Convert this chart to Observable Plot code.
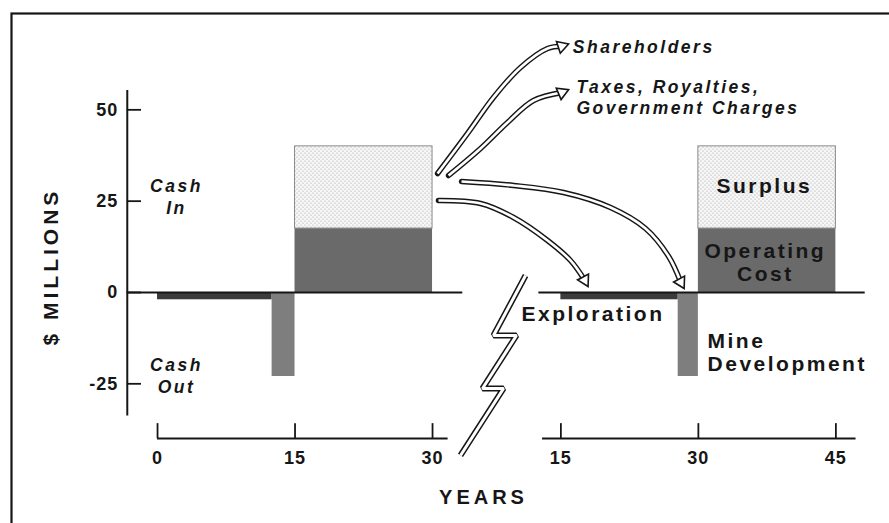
<!DOCTYPE html>
<html>
<head>
<meta charset="utf-8">
<script src="https://cdn.jsdelivr.net/npm/d3@7"></script>
<script src="https://cdn.jsdelivr.net/npm/@observablehq/plot@0.6"></script>
<style>
  html, body { margin: 0; padding: 0; background: #fff; }
  #chart { width: 889px; height: 523px; }
  #chart svg { font-family: "Liberation Sans", Arial, Helvetica, sans-serif; }
</style>
</head>
<body>
<div id="chart"></div>
<script>
// ---------------- DATA ----------------
const phases      = ["Exploration", "Mine Development", "Operating Cost", "Surplus"];
const leftStart   = [0, 12.5, 15, 15];     // years, left panel
const leftEnd     = [12.5, 15, 30, 30];
const rightStart  = [15, 27.8, 30, 30];    // years, right panel
const rightEnd    = [27.8, 30, 45, 45];
const phaseLow    = [-2, -23, 0, 17.5];    // $ millions
const phaseHigh   = [0, 0, 17.5, 40];
const yTicks      = [-25, 0, 25, 50];
const leftXTicks  = [0, 15, 30];
const rightXTicks = [15, 30, 45];

// ---------------- LAYOUT (scale domains, annotation positions in data units) ----------------
const W = 889, H = 523;
const xDomain = [-17.13, 79.85];
const yDomain = [-63.24, 79.93];
const rightShift = 29;                       // right panel drawn 29 years to the right
const colors = {"Exploration": "#3b3b3b", "Mine Development": "#7e7e7e", "Operating Cost": "#6a6a6a"};
const yAxisX = -3.3, yAxisTop = 55.3, yAxisBottom = -33.8, yTickEnd = -1.75;
const zeroLeft = [-3.3, 33.3], zeroRight = [12.6, 48.2];
const xAxisY = -40, xTickLen = 4.1;
const leftAxisSpan = [0, 31.7], rightAxisSpan = [13, 47.2];

const bolt = [[40.15, 4.65], [36.65, -11.77], [39.16, -11.77], [35.45, -26.28], [37.75, -26.28], [33.05, -44.62]];
const arrows = [
  [[30.55, 32.58], [33.82, 43.54], [36.65, 53.4], [39.6, 61.6], [42.55, 66.8], [44.1, 67.4]],
  [[31.75, 32.03], [35.24, 39.42], [38.18, 46.54], [41.02, 52.56], [44.12, 54.75]],
  [[33.16, 30.39], [38.84, 29.3], [44.29, 27.38], [49.42, 23.27], [53.24, 17.52], [55.76, 9.86], [57.08, 2.82]],
  [[30.65, 25.18], [35.24, 24.36], [38.84, 20.53], [42.55, 14.24], [45.05, 8.76], [46.6, 3.37]]
];
const arrowRotate = [72, 67, 152, 152];

const italicLabels = [
  {text: "Cash\nIn", x: 2.07, y: 26.3, anchor: "middle"},
  {text: "Cash\nOut", x: 2.07, y: -22.7, anchor: "middle"},
  {text: "Shareholders", x: 45.3, y: 67.6, anchor: "start"},
  {text: "Taxes, Royalties,\nGovernment Charges", x: 45.7, y: 53.65, anchor: "start"}
];
const phaseLabels = [
  {text: "Surplus", x: 66.2, y: 29.15, anchor: "middle"},
  {text: "Operating\nCost", x: 66.3, y: 8.2, anchor: "middle"},
  {text: "Exploration", x: 47.5, y: -5.9, anchor: "middle"},
  {text: "Mine\nDevelopment", x: 60.0, y: -16.4, anchor: "start"}
];

// ---------------- BUILD ----------------
const panels = [
  {shift: 0, start: leftStart, end: leftEnd},
  {shift: rightShift, start: rightStart, end: rightEnd}
];
const bars = panels.flatMap(p => phases.map((ph, i) => ({
  phase: ph, x1: p.start[i] + p.shift, x2: p.end[i] + p.shift, y1: phaseLow[i], y2: phaseHigh[i]
})));
const solidBars = bars.filter(d => d.phase !== "Surplus");
const surplusBars = bars.filter(d => d.phase === "Surplus");
const xTickRows = [
  ...leftXTicks.map(t => ({label: t, x: t})),
  ...rightXTicks.map(t => ({label: t, x: t + rightShift}))
];
const arrowRows = arrows.flatMap((pts, k) => pts.map(([x, y]) => ({k, x, y})));
const headRows = arrows.map((pts, k) => ({x: pts[pts.length - 1][0], y: pts[pts.length - 1][1], r: arrowRotate[k]}));
const boltRows = bolt.map(([x, y]) => ({x, y}));
const ink = "#161616";

const defs = () => {
  const d = d3.create("svg:defs");
  const p = d.append("pattern").attr("id", "dots").attr("patternUnits", "userSpaceOnUse")
    .attr("width", 4).attr("height", 4);
  p.append("rect").attr("width", 4).attr("height", 4).attr("fill", "#f7f7f7");
  p.append("circle").attr("cx", 1).attr("cy", 1).attr("r", 0.6).attr("fill", "#a0a0a0");
  p.append("circle").attr("cx", 3).attr("cy", 3).attr("r", 0.6).attr("fill", "#a0a0a0");
  return d.node();
};

const textMarks = (rows, opts, tag) => ["start", "middle"].map(a =>
  Plot.text(rows.filter(d => d.anchor === a), {x: "x", y: "y", text: "text", textAnchor: a, fill: ink,
    ariaDescription: tag, ...opts}));

const marks = [
  defs,
  Plot.frame({insetTop: 13, insetLeft: 11, insetRight: -4, insetBottom: -4, stroke: ink, strokeWidth: 2.2}),
  Plot.rect(solidBars, {x1: "x1", x2: "x2", y1: "y1", y2: "y2", fill: d => colors[d.phase]}),
  Plot.rect(surplusBars, {x1: "x1", x2: "x2", y1: "y1", y2: "y2", fill: "url(#dots)", stroke: "#8a8a8a", strokeWidth: 1}),
  // zero lines
  Plot.ruleY([0], {x1: zeroLeft[0], x2: zeroLeft[1], stroke: ink, strokeWidth: 1.8}),
  Plot.ruleY([0], {x1: zeroRight[0] + rightShift, x2: zeroRight[1] + rightShift, stroke: ink, strokeWidth: 1.8}),
  // y axis
  Plot.ruleX([yAxisX], {y1: yAxisBottom, y2: yAxisTop, stroke: ink, strokeWidth: 2}),
  Plot.ruleY(yTicks, {y: d => d, x1: yAxisX, x2: yTickEnd, stroke: ink, strokeWidth: 1.8}),
  Plot.text(yTicks, {x: yAxisX, y: d => d, text: d => String(d), dx: -9, textAnchor: "end",
    fontSize: 18, fontWeight: "bold", fill: ink, ariaDescription: "tick-labels"}),
  // x axes
  Plot.ruleY([xAxisY], {x1: leftAxisSpan[0], x2: leftAxisSpan[1], stroke: ink, strokeWidth: 2}),
  Plot.ruleY([xAxisY], {x1: rightAxisSpan[0] + rightShift, x2: rightAxisSpan[1] + rightShift, stroke: ink, strokeWidth: 2}),
  Plot.ruleX(xTickRows, {x: "x", y1: xAxisY, y2: xAxisY + xTickLen, stroke: ink, strokeWidth: 1.8}),
  Plot.text(xTickRows, {x: "x", y: xAxisY, text: d => String(d.label), dy: 20,
    fontSize: 18, fontWeight: "bold", fill: ink, ariaDescription: "tick-labels"}),
  // axis titles
  Plot.text(["$ MILLIONS"], {x: -11.56, y: 7.1, text: d => d, rotate: -90, fontSize: 21,
    fontWeight: "bold", fill: ink, ariaDescription: "axis-titles"}),
  Plot.text(["YEARS"], {x: 35.56, y: -56.1, text: d => d, fontSize: 20,
    fontWeight: "bold", fill: ink, ariaDescription: "axis-titles"}),
  // break symbol
  Plot.line(boltRows, {x: "x", y: "y", stroke: ink, strokeWidth: 6, strokeLinejoin: "miter", strokeLinecap: "butt"}),
  Plot.line(boltRows, {x: "x", y: "y", stroke: "#fff", strokeWidth: 3, strokeLinejoin: "miter", strokeLinecap: "butt"}),
];
arrows.forEach((_, k) => {
  const rows = arrowRows.filter(d => d.k === k);
  marks.push(Plot.line(rows, {x: "x", y: "y", curve: "catmull-rom", stroke: ink, strokeWidth: 5.5, strokeLinecap: "round"}));
  marks.push(Plot.line(rows, {x: "x", y: "y", curve: "catmull-rom", stroke: "#fff", strokeWidth: 2.6, strokeLinecap: "butt"}));
});
marks.push(
  Plot.dot(headRows, {x: "x", y: "y", symbol: "triangle", r: 4.6, rotate: "r", fill: "#fff", stroke: ink, strokeWidth: 1.6}),
  ...textMarks(italicLabels, {fontSize: 17.5, fontWeight: "bold", fontStyle: "italic", lineHeight: 1.25}, "italic-labels"),
  ...textMarks(phaseLabels, {fontSize: 21, fontWeight: "bold", lineHeight: 1.08}, "phase-labels")
);

const chart = Plot.plot({
  width: W, height: H,
  marginTop: 0, marginRight: 0, marginBottom: 0, marginLeft: 0,
  x: {type: "linear", domain: xDomain, range: [0, W], axis: null},
  y: {type: "linear", domain: yDomain, range: [H, 0], axis: null},
  style: {background: "#fff", fontFamily: "'Liberation Sans', Arial, Helvetica, sans-serif"},
  marks
});
const sel = d3.select(chart);
sel.selectAll('g[aria-description="tick-labels"] text').style("letter-spacing", "1px");
sel.selectAll('g[aria-description="axis-titles"] text').style("letter-spacing", "4px");
sel.selectAll('g[aria-description="italic-labels"] text').style("letter-spacing", "2.5px");
sel.selectAll('g[aria-description="phase-labels"] text').style("letter-spacing", "2.5px");
document.getElementById("chart").appendChild(chart);
</script>
</body>
</html>
